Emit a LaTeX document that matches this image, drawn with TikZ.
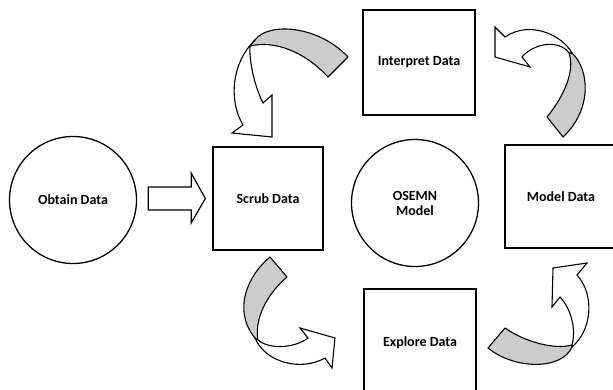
\documentclass[tikz,border=0pt]{standalone}
\usepackage{fontspec}
\setmainfont{Carlito}
\usetikzlibrary{calc}
\begin{document}
\begin{tikzpicture}[x=1pt,y=-1pt,
  every node/.style={font=\fontsize{14}{16}\selectfont\bfseries},
  stage/.style={draw=black,line width=1.3pt,fill=white,inner sep=0pt},
  roundstage/.style={stage,circle},
  boxstage/.style={stage,rectangle},
  band/.style={draw=black,line width=1.1pt,fill=black!20,line join=round},
  head/.style={draw=black,line width=1.1pt,fill=white,line join=miter},
  blockarrow/.style={draw=black,line width=1.2pt,fill=white,line join=miter}]
\useasboundingbox (0,0) rectangle (613,390);
\begin{scope}
\clip (0,0) rectangle (613,390);

% stages of the cycle
\node[roundstage,minimum size=127] (obtain) at (73,200) {Obtain Data};
\node[boxstage,minimum width=110,minimum height=103] (scrub) at (268,198.5) {Scrub Data};
\node[roundstage,minimum size=127,align=center] (osemn) at (415,203) {OSEMN\\[-1pt]Model};
\node[boxstage,minimum width=112,minimum height=105] (interpret) at (419,62.5) {Interpret Data};
\node[boxstage,minimum width=112,minimum height=103] (model) at (561,196.5) {Model Data};
\node[boxstage,minimum width=112,minimum height=108] (explore) at (420,343) {Explore Data};

% straight block arrow from obtain to scrub
\draw[blockarrow] ($(obtain.east)+(11,-13)$) coordinate (a1)
  -- ++(43,0) -- ++(0,-14) -- ($(scrub.west)+(-7,0)$) coordinate (a2)
  -- ($(a1)+(43,36)$) -- ($(a1)+(43,23)$) -- ($(a1)+(0,23)$) -- cycle;

% curved arrow: interpret -> scrub
\draw[band] (255,40) .. controls (268,22) and (318,25) .. (348,57)
  -- (328,77) .. controls (305,52) and (275,40) .. (250,46) -- cycle;
\draw[head] (255,40) .. controls (232,62) and (228,100) .. (243,125)
  -- (232,133) -- (272,137) -- (272,95) -- (263,103)
  .. controls (254,85) and (249,60) .. (250,46) -- cycle;

% curved arrow: model -> interpret
\draw[band] (572,53) .. controls (590,70) and (592,110) .. (563,137)
  -- (547,117) .. controls (565,95) and (575,70) .. (569,53) -- cycle;
\draw[head] (572,53) .. controls (562,35) and (530,20) .. (505,37)
  -- (495,27) -- (495,57) -- (530,67) -- (522,57)
  .. controls (535,42) and (560,40) .. (569,53) -- cycle;

% curved arrow: scrub -> explore
\draw[band] (270,257) -- (287,277) .. controls (268,293) and (254,318) .. (258,340)
  -- (255,338) .. controls (232,310) and (248,275) .. (270,257) -- cycle;
\draw[head] (255,338) .. controls (265,362) and (300,372) .. (325,358)
  -- (332,368) -- (335,338) -- (300,328) -- (308,338)
  .. controls (295,348) and (270,350) .. (258,340) -- cycle;

% curved arrow: explore -> model
\draw[band] (488,348) -- (505,328) .. controls (525,342) and (555,350) .. (572,345)
  -- (572,347) .. controls (562,370) and (515,370) .. (488,348) -- cycle;
\draw[head] (572,347) .. controls (592,330) and (595,295) .. (577,275)
  -- (587,263) -- (553,268) -- (552,307) -- (560,297)
  .. controls (572,310) and (576,330) .. (572,345) -- cycle;
\end{scope}
\end{tikzpicture}
\end{document}
